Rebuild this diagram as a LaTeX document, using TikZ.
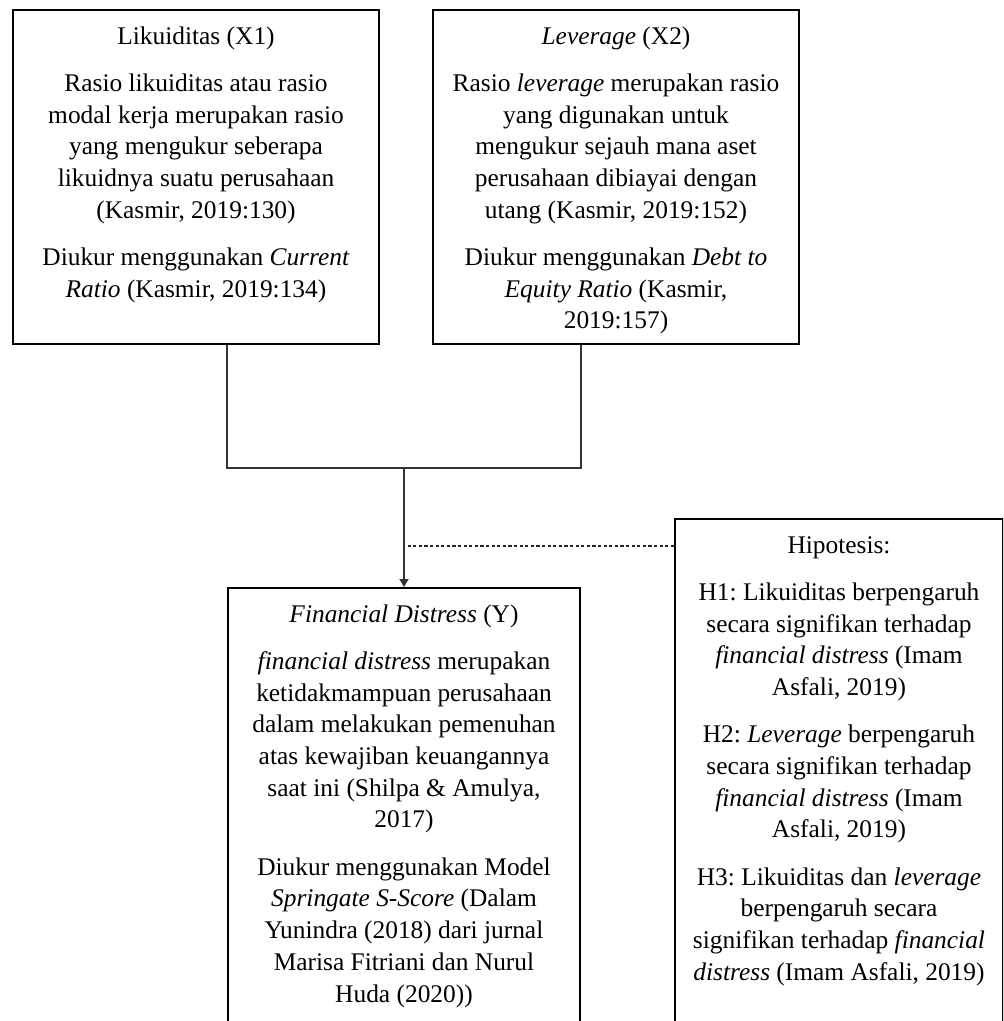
\documentclass[tikz,border=0pt]{standalone}
\usepackage{fontspec}
\setmainfont{Liberation Serif}
\usetikzlibrary{arrows.meta}
\usetikzlibrary{positioning}
\tikzset{kotak/.style = {draw, line width = 1pt, inner sep = 0, anchor = north west, font = \fontsize{12.7}{15.85}\selectfont\frenchspacing}}
\tikzset{hubung/.style = {line width = .75pt, draw = black!80}}
\tikzset{putus/.style = {line width = .8pt, draw = black!85, dash pattern = on 1.6pt off 1.2pt}}
\newcommand{\isikotak}[3]{\parbox[t][#1][t]{#2}{\centering\vspace*{6pt}\strut #3}}

\begin{document}
\begin{tikzpicture}[x = 0.5pt, y = -0.5pt]
      \useasboundingbox (0, 0) rectangle (1003, 1021);
      \clip (0, 0) rectangle (1003, 1021);
      \node [kotak] (x1) at (12, 9) {\isikotak{167pt}{183pt}{Likuiditas (X1)\\[7.8pt]
        Rasio likuiditas atau rasio\\ modal kerja merupakan rasio\\ yang mengukur seberapa\\ likuidnya suatu perusahaan\\ (Kasmir, 2019:130)\\[7.8pt]
        Diukur menggunakan \textit{Current}\\ \textit{Ratio} (Kasmir, 2019:134)}};
      \node [kotak] (x2) at (432, 9) {\isikotak{167pt}{183pt}{\textit{Leverage} (X2)\\[7.8pt]
        Rasio \textit{leverage} merupakan rasio\\ yang digunakan untuk\\ mengukur sejauh mana aset\\ perusahaan dibiayai dengan\\ utang (Kasmir, 2019:152)\\[7.8pt]
        Diukur menggunakan \textit{Debt to}\\ \textit{Equity Ratio} (Kasmir,\\ 2019:157)}};
      \node [kotak] (y) at (227, 587) {\isikotak{224pt}{176pt}{\textit{Financial Distress} (Y)\\[7.8pt]
        \textit{financial distress} merupakan\\ ketidakmampuan perusahaan\\ dalam melakukan pemenuhan\\ atas kewajiban keuangannya\\ saat ini (Shilpa \& Amulya,\\ 2017)\\[7.8pt]
        Diukur menggunakan Model\\ \textit{Springate S-Score} (Dalam\\ Yunindra (2018) dari jurnal\\ Marisa Fitriani dan Nurul\\ Huda (2020))}};
      \node [kotak] (hip) at (674, 518) {\isikotak{260pt}{164pt}{Hipotesis:\\[7.8pt]
        H1: Likuiditas berpengaruh\\ secara signifikan terhadap\\ \textit{financial distress} (Imam\\ Asfali, 2019)\\[7.8pt]
        H2: \textit{Leverage} berpengaruh\\ secara signifikan terhadap\\ \textit{financial distress} (Imam\\ Asfali, 2019)\\[7.8pt]
        H3: Likuiditas dan \textit{leverage}\\ berpengaruh secara\\ signifikan terhadap \textit{financial}\\ \textit{distress} (Imam Asfali, 2019)}};
      \coordinate (kiri) at (x1.south -| y.west);
      \coordinate (kanan) at (x2.south -| y.east);
      \coordinate (temu) at (y.north |- 0, 468);
      \draw [hubung] (kiri) -- (kiri |- temu) -- (kanan |- temu) -- (kanan);
      \draw [hubung, -{Triangle[length = 4pt, width = 4.5pt]}] (temu) -- (y.north);
      \draw [putus] (hip.north west |- 0, 546) -- (y.north |- 0, 546);
    \end{tikzpicture}
\end{document}
